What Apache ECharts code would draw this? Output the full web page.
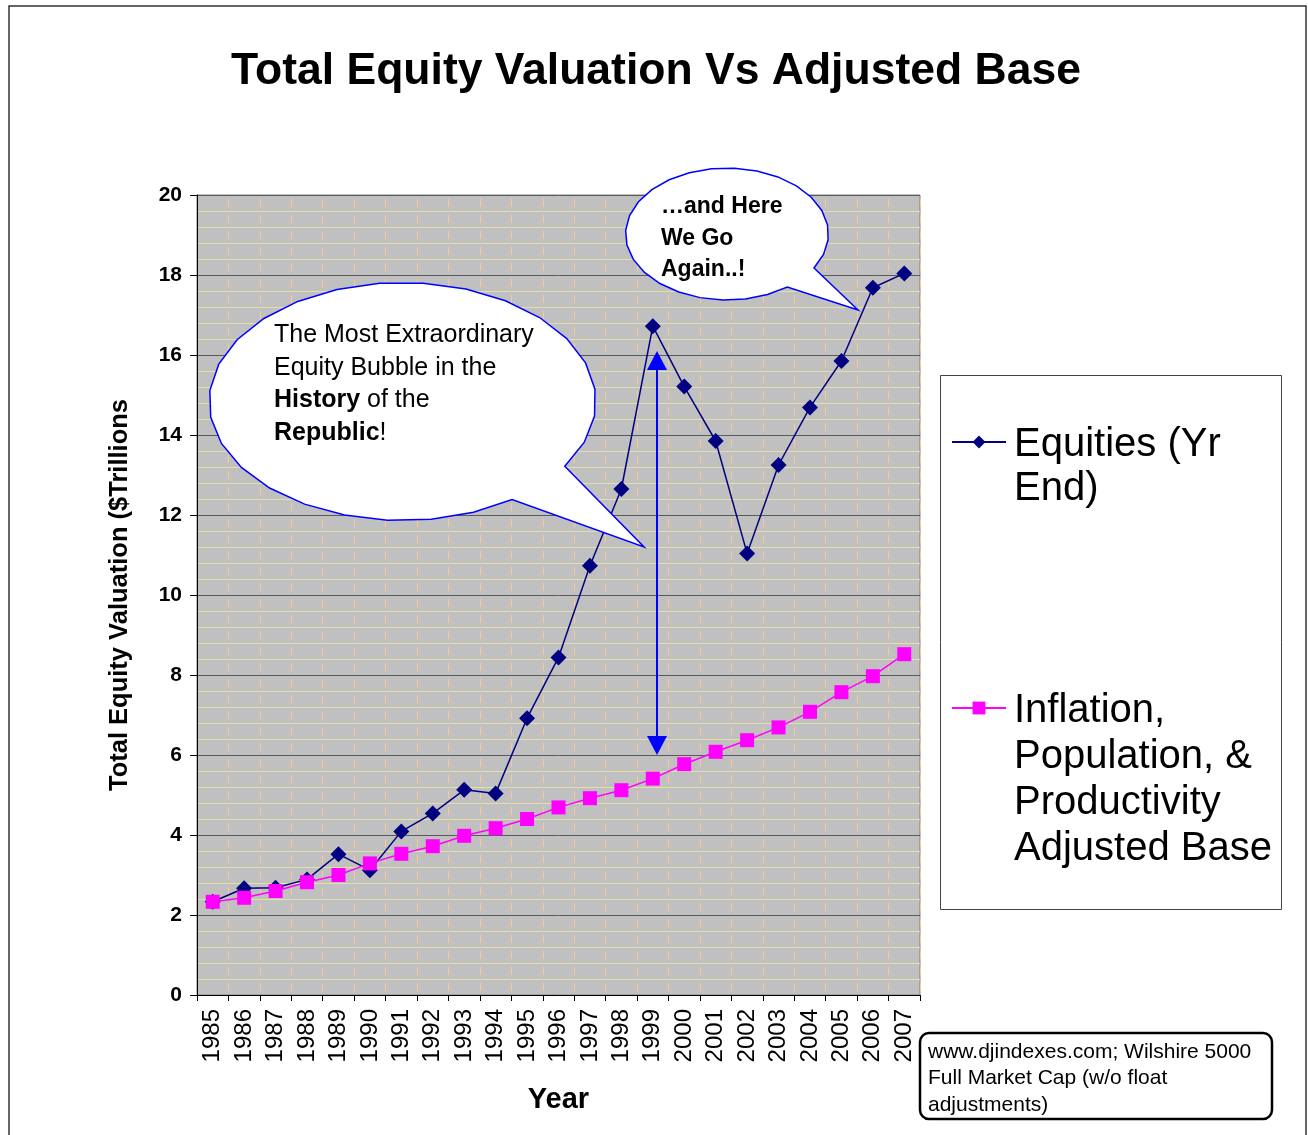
<!DOCTYPE html>
<html><head><meta charset="utf-8">
<script src="https://cdn.jsdelivr.net/npm/echarts@6/dist/echarts.min.js"></script>
<style>html,body{margin:0;padding:0;background:#fff}#c{width:1308px;height:1135px}</style>
</head><body><div id="c"></div>
<script>
// ---- data ----
const years = ['1985','1986','1987','1988','1989','1990','1991','1992','1993','1994','1995','1996',
  '1997','1998','1999','2000','2001','2002','2003','2004','2005','2006','2007'];
const equities = [2.33, 2.67, 2.68, 2.89, 3.52, 3.12, 4.09, 4.54, 5.13, 5.04, 6.92, 8.44,
  10.73, 12.65, 16.72, 15.21, 13.85, 11.04, 13.25, 14.69, 15.85, 17.68, 18.04];
const adjustedBase = [2.33, 2.43, 2.60, 2.82, 3.00, 3.29, 3.53, 3.72, 3.98, 4.17, 4.40, 4.69,
  4.92, 5.12, 5.41, 5.77, 6.08, 6.37, 6.69, 7.08, 7.57, 7.97, 8.52];
const yMin = 0, yMax = 20, yStep = 2;
const seriesNames = ['Equities (Yr End)', 'Inflation, Population, & Productivity Adjusted Base'];
const legendLines = [['Equities (Yr', 'End)'], ['Inflation,', 'Population, &', 'Productivity', 'Adjusted Base']];
const titleText = 'Total Equity Valuation Vs Adjusted Base';
const xName = 'Year';
const yName = 'Total Equity Valuation ($Trillions';
const bubble1 = '{n|The Most Extraordinary}\n{n|Equity Bubble in the}\n{b|History}{n| of the}\n{b|Republic}{n|!}';
const bubble2 = '\u2026and Here\nWe Go\nAgain..!';
const sourceText = 'www.djindexes.com; Wilshire 5000\nFull Market Cap (w/o float\nadjustments)';

const FONT = '"Liberation Sans", Arial, sans-serif';

function bubblePts(cx, cy, rx, ry, a1, a2, tip) {
  const P = a => { const r = a * Math.PI / 180; return [cx + rx * Math.cos(r), cy + ry * Math.sin(r)]; };
  const pts = [P(a1), tip, P(a2)];
  const n = 26;
  const span = 360 - (a2 - a1);
  for (let i = 1; i < n; i++) pts.push(P(a2 + span * i / n));
  pts.push(P(a1 + 360));
  return pts;
}

function legendRich(lineH, spacerH) {
  return {
    s: {fontSize: 10, lineHeight: spacerH, fontFamily: FONT},
    t: {fontSize: 40, lineHeight: lineH, color: '#000', fontFamily: FONT, padding: [0, 0, 0, 3]}
  };
}

const chart = echarts.init(document.getElementById('c'), null, {renderer: 'canvas'});
const option = {
  animation: false,
  backgroundColor: '#ffffff',
  textStyle: {fontFamily: FONT},
  title: {
    text: titleText, left: 656, top: 49, textAlign: 'center', padding: 0,
    textStyle: {fontSize: 44.5, fontWeight: 'bold', color: '#000', fontFamily: FONT}
  },
  grid: {
    left: 197, top: 195, width: 723, height: 800,
    show: true, backgroundColor: '#c0c0c0', borderColor: '#808080', borderWidth: 1
  },
  legend: {
    orient: 'vertical', left: 951, top: 393, padding: 0, itemGap: 102,
    itemWidth: 54, itemHeight: 16, selectedMode: false, z: 20,
    formatter: name => '{s| }\n' + legendLines[seriesNames.indexOf(name)].map(l => '{t|' + l + '}').join('\n'),
    data: [
      {name: seriesNames[0], textStyle: {fontSize: 40, color: '#000', fontFamily: FONT, rich: legendRich(44, 50)}},
      {name: seriesNames[1], textStyle: {fontSize: 40, color: '#000', fontFamily: FONT, rich: legendRich(46, 144)}}
    ]
  },
  xAxis: {
    type: 'category', data: years, boundaryGap: true,
    name: xName, nameLocation: 'middle', nameGap: 90,
    nameTextStyle: {fontSize: 29, fontWeight: 'bold', color: '#000', fontFamily: FONT},
    axisLine: {lineStyle: {color: '#000', width: 1}},
    axisTick: {show: true, length: 6, interval: 0, lineStyle: {color: '#000'}},
    axisLabel: {rotate: 90, interval: 0, fontSize: 24, color: '#000', margin: 14, fontFamily: FONT},
    splitLine: {show: true, interval: 0, lineStyle: {color: '#ffc890', width: 1, type: [8, 8], dashOffset: 12}}
  },
  yAxis: {
    type: 'value', min: yMin, max: yMax, interval: yStep,
    name: yName, nameLocation: 'middle', nameGap: 64,
    nameTextStyle: {fontSize: 25.5, fontWeight: 'bold', color: '#000', fontFamily: FONT},
    axisLine: {show: true, lineStyle: {color: '#000', width: 1}},
    axisTick: {show: true, length: 7, lineStyle: {color: '#000'}},
    axisLabel: {fontSize: 21, fontWeight: 'bold', color: '#000', margin: 15, fontFamily: FONT},
    splitLine: {show: true, lineStyle: {color: '#5a5a5a', width: 1}},
    minorTick: {show: false, splitNumber: 5},
    minorSplitLine: {show: true, lineStyle: {color: '#e6e0a8', width: 1}}
  },
  series: [
    {
      name: seriesNames[0], type: 'line', data: equities, z: 3,
      symbol: 'diamond', symbolSize: 16,
      lineStyle: {color: '#000080', width: 1.5},
      itemStyle: {color: '#000080'}
    },
    {
      name: seriesNames[1], type: 'line', data: adjustedBase, z: 4,
      symbol: 'rect', symbolSize: 14,
      lineStyle: {color: '#ff00ff', width: 1.5},
      itemStyle: {color: '#ff00ff'}
    }
  ],
  graphic: [
    // outer border
    {type: 'rect', z: 1, shape: {x: 9, y: 6, width: 1297, height: 1150}, style: {fill: 'none', stroke: '#333', lineWidth: 1.5}, silent: true},
    // legend box
    {type: 'rect', z: 1, shape: {x: 940.5, y: 375.5, width: 341, height: 534}, style: {fill: '#fff', stroke: '#444', lineWidth: 1}, silent: true},
    // bubble 1
    {type: 'polygon', z: 100, shape: {points: bubblePts(402.5, 401.5, 193.5, 119, 33, 55.5, [644, 547])},
      style: {fill: '#fff', stroke: '#0000ff', lineWidth: 1.5}},
    {type: 'text', z: 101, x: 274, y: 319, style: {
      text: bubble1, fill: '#000', verticalAlign: 'top', align: 'left',
      rich: {
        n: {fontSize: 25, fontFamily: FONT, lineHeight: 32.5, fill: '#000'},
        b: {fontSize: 25, fontFamily: FONT, fontWeight: 'bold', lineHeight: 32.5, fill: '#000'}
      }}},
    // bubble 2
    {type: 'polygon', z: 100, shape: {points: bubblePts(727, 234, 101.5, 66, 31, 53.5, [858, 310])},
      style: {fill: '#fff', stroke: '#0000ff', lineWidth: 1.5}},
    {type: 'text', z: 101, x: 661, y: 191, style: {
      text: bubble2, fill: '#000', verticalAlign: 'top', align: 'left',
      font: 'bold 23px ' + FONT, lineHeight: 31.5}},
    // double arrow
    {type: 'line', z: 100, shape: {x1: 657, y1: 368, x2: 657, y2: 738}, style: {stroke: '#0000ff', lineWidth: 2}},
    {type: 'polygon', z: 100, shape: {points: [[657, 351], [647, 370], [667, 370]]}, style: {fill: '#0000ff'}},
    {type: 'polygon', z: 100, shape: {points: [[657, 755], [647, 736], [667, 736]]}, style: {fill: '#0000ff'}},
    // source box
    {type: 'rect', z: 100, shape: {x: 920, y: 1033, width: 352, height: 86, r: 9}, style: {fill: '#fff', stroke: '#000', lineWidth: 2.5}},
    {type: 'text', z: 101, x: 928, y: 1038.5, style: {
      text: sourceText, fill: '#000', verticalAlign: 'top', align: 'left',
      font: '21px ' + FONT, lineHeight: 26.7}}
  ]
};
chart.setOption(option);
</script>
</body></html>
